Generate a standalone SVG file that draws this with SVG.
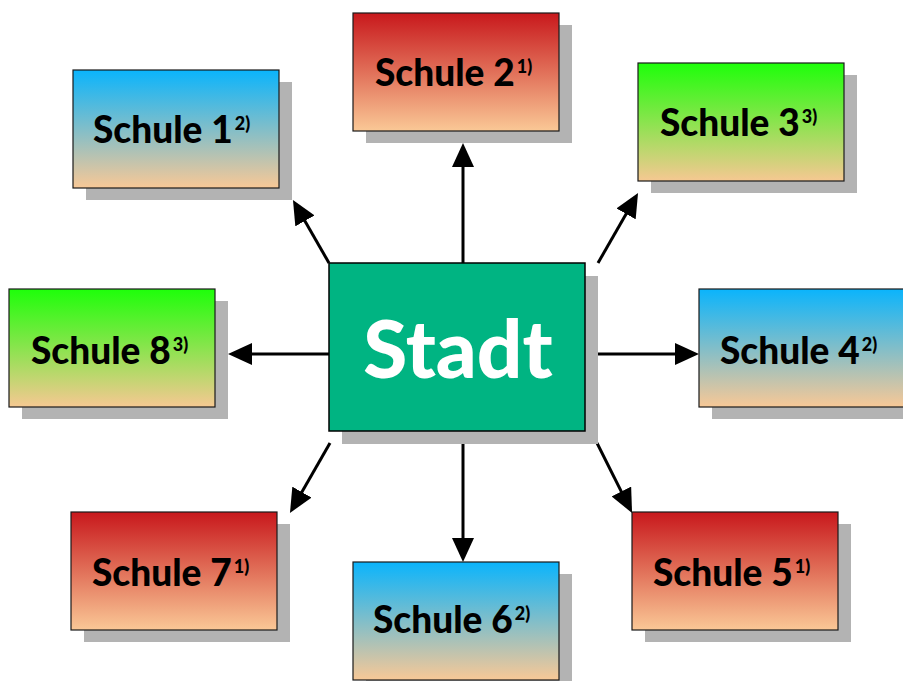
<svg xmlns="http://www.w3.org/2000/svg" width="903" height="681" viewBox="0 0 903 681">
<style>
.shadow{fill:#b3b3b3}
.box{stroke:#1a1a1a;stroke-width:1.2}
.lbl{font-family:Lato,"Open Sans","DejaVu Sans",sans-serif;font-weight:900;font-size:37px;fill:#000}
.sup{font-size:18px}
.conn line{stroke:#000;stroke-width:3;marker-end:url(#ah)}
</style>
<defs>
<linearGradient id="gRed" x1="0" y1="0" x2="0" y2="1"><stop offset="0" stop-color="#c8181c"/><stop offset="1" stop-color="#fac896"/></linearGradient>
<linearGradient id="gBlue" x1="0" y1="0" x2="0" y2="1"><stop offset="0" stop-color="#0ab4fc"/><stop offset="1" stop-color="#f8c896"/></linearGradient>
<linearGradient id="gGreen" x1="0" y1="0" x2="0" y2="1"><stop offset="0" stop-color="#1eff0a"/><stop offset="1" stop-color="#f6c892"/></linearGradient>
<marker id="ah" markerUnits="userSpaceOnUse" markerWidth="24" markerHeight="22" refX="4" refY="11" orient="auto" viewBox="0 0 24 22"><path d="M0,0 L24,11 L0,22 z" fill="#000"/></marker>
</defs>
<rect width="903" height="681" fill="#fff"/>
<g id="connectors" class="conn">
<line x1="329" y1="263" x2="302.9" y2="217.4"/>
<line x1="463" y1="263" x2="463" y2="163"/>
<line x1="598" y1="263" x2="628.1" y2="210.4"/>
<line x1="329" y1="354" x2="248" y2="354"/>
<line x1="598" y1="354" x2="679" y2="354"/>
<line x1="330" y1="443" x2="299.9" y2="495.6"/>
<line x1="463" y1="443" x2="463" y2="542"/>
<line x1="597" y1="443" x2="623.1" y2="495.1"/>
</g>
<g id="stadt">
<rect class="shadow" x="342" y="276" width="256" height="168"/>
<rect x="329" y="263" width="256" height="168" fill="#00b482" stroke="#000" stroke-width="1.5"/>
<text x="458" y="378" text-anchor="middle" font-family="Lato,'Open Sans','DejaVu Sans',sans-serif" font-weight="900" font-size="80" fill="#fff">Stadt</text>
</g>
<g id="schule1">
<rect class="shadow" x="86" y="82" width="206" height="118"/>
<rect class="box" x="73" y="70" width="206" height="118" fill="url(#gBlue)"/>
<text class="lbl" x="93" y="143">Schule 1<tspan class="sup" dx="2" dy="-13">2)</tspan></text>
</g>
<g id="schule2">
<rect class="shadow" x="366" y="25" width="206" height="118"/>
<rect class="box" x="353" y="13" width="206" height="118" fill="url(#gRed)"/>
<text class="lbl" x="375" y="86">Schule 2<tspan class="sup" dx="2" dy="-13">1)</tspan></text>
</g>
<g id="schule3">
<rect class="shadow" x="651" y="75" width="206" height="118"/>
<rect class="box" x="638" y="63" width="206" height="118" fill="url(#gGreen)"/>
<text class="lbl" x="660" y="136">Schule 3<tspan class="sup" dx="2" dy="-13">3)</tspan></text>
</g>
<g id="schule4">
<rect class="shadow" x="712" y="301" width="206" height="118"/>
<rect class="box" x="699" y="289" width="206" height="118" fill="url(#gBlue)"/>
<text class="lbl" x="720" y="364">Schule 4<tspan class="sup" dx="2" dy="-13">2)</tspan></text>
</g>
<g id="schule5">
<rect class="shadow" x="645" y="524" width="206" height="118"/>
<rect class="box" x="632" y="512" width="206" height="118" fill="url(#gRed)"/>
<text class="lbl" x="653" y="586">Schule 5<tspan class="sup" dx="2" dy="-13">1)</tspan></text>
</g>
<g id="schule6">
<rect class="shadow" x="366" y="574" width="206" height="118"/>
<rect class="box" x="353" y="562" width="206" height="118" fill="url(#gBlue)"/>
<text class="lbl" x="373" y="633">Schule 6<tspan class="sup" dx="2" dy="-13">2)</tspan></text>
</g>
<g id="schule7">
<rect class="shadow" x="84" y="524" width="206" height="118"/>
<rect class="box" x="71" y="512" width="206" height="118" fill="url(#gRed)"/>
<text class="lbl" x="92" y="586">Schule 7<tspan class="sup" dx="2" dy="-13">1)</tspan></text>
</g>
<g id="schule8">
<rect class="shadow" x="22" y="301" width="206" height="118"/>
<rect class="box" x="9" y="289" width="206" height="118" fill="url(#gGreen)"/>
<text class="lbl" x="31" y="364">Schule 8<tspan class="sup" dx="2" dy="-13">3)</tspan></text>
</g>
</svg>
